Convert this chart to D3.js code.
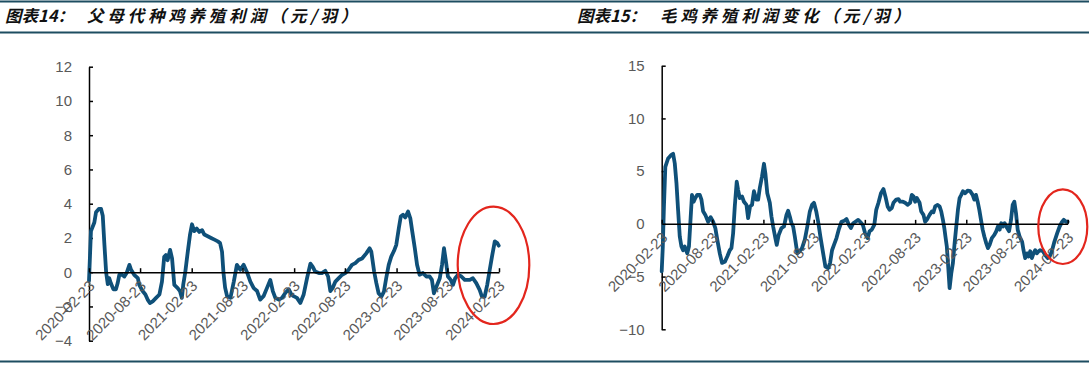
<!DOCTYPE html>
<html><head><meta charset="utf-8">
<script src="https://cdn.jsdelivr.net/npm/d3@7"></script>
<style>body{margin:0;background:#fff;overflow:hidden} svg{display:block}</style>
</head><body>
<svg id="c" width="1089" height="366"></svg>
<script>
// ---------- data ----------
const titleLeftPrefix = "图表14：";
const titleLeft = "父母代种鸡养殖利润（元/羽）";
const titleRightPrefix = "图表15：";
const titleRight = "毛鸡养殖利润变化（元/羽）";

const xTickLabels = ["2020-02-23","2020-08-23","2021-02-23","2021-08-23","2022-02-23","2022-08-23","2023-02-23","2023-08-23","2024-02-23"];
const leftYTicks = [-4,-2,0,2,4,6,8,10,12];
const rightYTicks = [-10,-5,0,5,10,15];

const parentDates = ["2020-02-23","2020-03-01","2020-03-13","2020-03-19","2020-03-29","2020-04-06","2020-04-12","2020-04-18","2020-04-24","2020-04-30","2020-05-05","2020-05-11","2020-05-20","2020-05-29","2020-06-04","2020-06-10","2020-06-20","2020-06-28","2020-07-06","2020-07-16","2020-07-22","2020-08-02","2020-08-15","2020-08-20","2020-09-01","2020-09-11","2020-09-19","2020-09-27","2020-10-07","2020-10-19","2020-10-31","2020-11-09","2020-11-17","2020-11-23","2020-11-29","2020-12-08","2020-12-15","2020-12-23","2021-01-04","2021-01-12","2021-01-19","2021-01-24","2021-01-31","2021-02-09","2021-02-17","2021-02-24","2021-03-04","2021-03-13","2021-03-22","2021-04-01","2021-04-09","2021-04-21","2021-05-03","2021-05-15","2021-05-27","2021-06-04","2021-06-11","2021-06-16","2021-06-22","2021-06-29","2021-07-11","2021-07-23","2021-08-03","2021-08-15","2021-08-27","2021-09-08","2021-09-20","2021-10-02","2021-10-14","2021-10-25","2021-11-06","2021-11-18","2021-11-30","2021-12-09","2021-12-18","2021-12-30","2022-01-11","2022-01-23","2022-02-04","2022-02-13","2022-02-21","2022-03-05","2022-03-17","2022-03-29","2022-04-10","2022-04-22","2022-04-30","2022-05-09","2022-05-22","2022-06-02","2022-06-14","2022-06-24","2022-07-02","2022-07-10","2022-07-20","2022-08-01","2022-08-13","2022-08-24","2022-09-05","2022-09-17","2022-09-29","2022-10-11","2022-10-23","2022-11-07","2022-11-19","2022-11-25","2022-12-05","2022-12-13","2022-12-21","2022-12-31","2023-01-09","2023-01-17","2023-01-26","2023-02-04","2023-02-14","2023-02-22","2023-03-03","2023-03-10","2023-03-18","2023-03-26","2023-04-05","2023-04-13","2023-04-20","2023-04-29","2023-05-07","2023-05-16","2023-05-28","2023-06-09","2023-06-21","2023-06-29","2023-07-06","2023-07-15","2023-07-27","2023-08-04","2023-08-11","2023-08-18","2023-08-25","2023-09-04","2023-09-12","2023-09-20","2023-09-30","2023-10-12","2023-10-24","2023-11-11","2023-11-22","2023-12-04","2023-12-16","2023-12-24","2024-01-03","2024-01-12","2024-01-21","2024-01-29","2024-02-08","2024-02-17","2024-02-22"];
const parentValues = [-0.5,2.4,2.9,3.5,3.7,3.7,3.3,1.6,0.0,-0.7,-0.35,-0.65,-1.0,-1.0,-0.65,-0.15,-0.15,-0.25,-0.05,0.43,0.14,-0.15,-0.35,-0.74,-1.1,-1.3,-1.6,-1.8,-1.7,-1.5,-1.3,-0.55,0.9,1.0,0.7,1.3,0.8,-0.74,-0.93,-1.1,-1.5,-0.7,0.0,1.2,2.2,2.8,2.4,2.55,2.35,2.45,2.2,2.1,2.0,1.9,1.8,1.7,1.2,0.0,-0.9,-1.4,-1.5,-0.55,0.43,0.14,0.43,0.0,-0.55,-0.93,-1.1,-1.6,-1.4,-0.93,-0.45,-1.1,-1.5,-1.6,-1.5,-1.2,-1.0,-1.3,-1.4,-1.5,-1.8,-1.3,-0.35,0.5,0.33,0.04,-0.05,-0.05,0.08,-0.25,-1.1,-0.93,-0.55,-0.35,-0.15,-0.05,0.14,0.43,0.53,0.72,0.8,1.1,1.4,1.2,0.04,-0.64,-1.23,-1.42,-1.13,-0.35,0.43,0.91,1.25,1.6,2.57,3.25,3.35,3.2,3.54,3.15,2.37,1.4,0.43,-0.15,-0.05,-0.25,-0.25,-0.45,-1.23,-0.84,-0.35,0.43,1.4,0.62,-0.25,-0.45,-0.74,-0.35,-0.15,-0.25,-0.45,-0.45,-0.35,-0.64,-1.03,-1.42,-1.42,-0.74,0.14,0.91,1.8,1.7,1.55];

const broilerDates = ["2020-02-23","2020-02-27","2020-03-02","2020-03-07","2020-03-17","2020-03-29","2020-04-04","2020-04-10","2020-04-16","2020-04-22","2020-04-28","2020-05-04","2020-05-10","2020-05-16","2020-05-25","2020-05-31","2020-06-05","2020-06-11","2020-06-17","2020-06-23","2020-06-30","2020-07-09","2020-07-15","2020-07-21","2020-07-29","2020-08-08","2020-08-17","2020-08-26","2020-09-03","2020-09-10","2020-09-19","2020-09-27","2020-10-07","2020-10-16","2020-10-25","2020-10-31","2020-11-06","2020-11-12","2020-11-19","2020-11-24","2020-11-30","2020-12-08","2020-12-15","2020-12-24","2020-12-30","2021-01-06","2021-01-13","2021-01-20","2021-01-28","2021-02-04","2021-02-10","2021-02-18","2021-02-25","2021-03-02","2021-03-09","2021-03-18","2021-03-24","2021-03-30","2021-04-07","2021-04-12","2021-04-19","2021-04-29","2021-05-08","2021-05-17","2021-05-23","2021-05-29","2021-06-04","2021-06-10","2021-06-16","2021-06-25","2021-07-04","2021-07-12","2021-07-22","2021-07-31","2021-08-09","2021-08-17","2021-08-24","2021-09-01","2021-09-08","2021-09-16","2021-09-26","2021-10-04","2021-10-14","2021-10-21","2021-10-28","2021-11-04","2021-11-13","2021-11-21","2021-12-01","2021-12-11","2021-12-19","2021-12-28","2022-01-04","2022-01-12","2022-01-20","2022-01-30","2022-02-06","2022-02-16","2022-02-24","2022-03-05","2022-03-12","2022-03-20","2022-03-29","2022-04-05","2022-04-13","2022-04-22","2022-05-01","2022-05-08","2022-05-16","2022-05-23","2022-05-31","2022-06-06","2022-06-16","2022-06-24","2022-06-30","2022-07-10","2022-07-18","2022-07-27","2022-08-05","2022-08-11","2022-08-17","2022-08-23","2022-08-29","2022-09-08","2022-09-14","2022-09-22","2022-09-28","2022-10-04","2022-10-14","2022-10-22","2022-10-28","2022-11-03","2022-11-12","2022-11-19","2022-11-25","2022-12-01","2022-12-06","2022-12-10","2022-12-15","2022-12-20","2022-12-25","2022-12-31","2023-01-06","2023-01-12","2023-01-18","2023-01-24","2023-01-30","2023-02-05","2023-02-11","2023-02-19","2023-02-28","2023-03-09","2023-03-18","2023-03-24","2023-03-30","2023-04-05","2023-04-11","2023-04-17","2023-04-23","2023-04-29","2023-05-06","2023-05-12","2023-05-18","2023-05-26","2023-06-04","2023-06-11","2023-06-17","2023-06-23","2023-06-29","2023-07-05","2023-07-11","2023-07-20","2023-07-27","2023-08-03","2023-08-09","2023-08-15","2023-08-21","2023-08-27","2023-09-03","2023-09-12","2023-09-17","2023-09-23","2023-09-30","2023-10-05","2023-10-11","2023-10-17","2023-10-23","2023-10-29","2023-11-04","2023-11-10","2023-11-16","2023-11-26","2023-12-04","2023-12-13","2023-12-20","2023-12-28","2024-01-06","2024-01-16","2024-01-25","2024-02-03","2024-02-09","2024-02-17","2024-02-23"];
const broilerValues = [-4.5,-2.15,1.6,5.4,6.2,6.55,6.65,5.75,3.9,1.3,-1.2,-2.15,-2.5,-2.15,-2.8,-2.15,0.06,2.75,2.1,2.45,2.75,2.75,2.3,1.2,0.85,0.2,0.63,0.2,-0.4,-1.5,-2.8,-3.7,-3.6,-3.1,-2.5,-2.3,-0.9,1.65,4.0,3.2,2.45,2.6,2.1,1.8,0.54,1.65,1.8,3.1,2.3,2.3,3.4,4.5,5.7,4.8,2.9,2.0,0.7,-0.25,-1.35,-2.0,-1.05,-0.4,-0.25,0.85,1.25,0.7,0.06,-0.25,-1.2,-2.8,-2.6,-2.3,-1.5,-0.25,1.17,1.8,2.0,1.2,0.2,-1.2,-2.8,-4.05,-4.2,-3.7,-2.5,-2.0,-1.35,-0.55,0.2,0.3,0.45,-0.1,-0.4,0.06,0.2,0.38,0.2,-0.1,-0.9,-1.35,-0.7,-0.55,-0.1,1.33,2.0,2.9,3.3,2.6,1.65,1.33,1.5,2.0,2.3,2.35,2.1,2.1,2.0,1.8,2.0,2.75,2.6,2.1,2.45,2.0,1.17,0.85,0.2,0.38,0.85,1.17,1.1,1.65,1.8,1.65,1.17,0.38,-0.4,-1.2,-2.15,-4.05,-6.1,-4.7,-3.7,-1.85,-0.25,1.33,2.45,2.75,3.1,2.9,3.15,3.1,2.75,2.3,2.75,2.1,1.33,0.38,-0.55,-1.2,-1.85,-2.3,-2.0,-1.35,-1.05,-0.7,-0.25,-0.55,0.06,-0.25,0.06,-0.4,-0.7,0.38,1.8,2.1,1.0,-0.55,-1.2,-1.7,-2.5,-3.25,-2.8,-3.1,-2.6,-3.25,-2.8,-2.5,-2.8,-2.6,-2.5,-2.6,-2.95,-3.25,-3.1,-2.6,-1.7,-0.9,-0.25,0.2,0.38,0.2,0.2];

// ---------- drawing ----------
const parse = d3.timeParse("%Y-%m-%d");
const svg = d3.select("#c");
const frameColor = "#1d4d61";
const lineColor = "#0f5079";
const labelColor = "#595959";
const font = "'Liberation Sans', Arial, sans-serif";

// frame lines
[1.5, 32.5, 361.5].forEach(y => {
  svg.append("line").attr("x1",0).attr("x2",1089).attr("y1",y).attr("y2",y)
    .attr("stroke",frameColor).attr("stroke-width",2);
});

function title(x0, x1, prefix, text) {
  const t = svg.append("text").attr("y",22)
    .attr("font-family","'Noto Sans CJK SC', sans-serif")
    .attr("font-weight","bold").attr("font-style","italic")
    .attr("font-size",16.5).attr("fill","#111");
  t.append("tspan").attr("x",x0).text(prefix);
  t.append("tspan").attr("x",x1).attr("letter-spacing",3.8).text(text);
}
title(5, 87, titleLeftPrefix, titleLeft);
title(577, 660, titleRightPrefix, titleRight);

function panel(cfg) {
  const x = d3.scaleTime()
    .domain([parse(xTickLabels[0]), parse(xTickLabels[xTickLabels.length-1])])
    .range([cfg.x0, cfg.x1]);
  const y = d3.scaleLinear().domain(cfg.yDomain).range([cfg.y1, cfg.y0]);
  const g = svg.append("g");

  // y axis
  const ya = g.append("g").attr("transform",`translate(${cfg.x0},0)`)
    .call(d3.axisLeft(y).tickValues(cfg.yTicks).tickSizeInner(-4).tickSizeOuter(0).tickPadding(17).tickFormat(d3.format("d")));
  ya.select(".domain").attr("stroke","#000").attr("stroke-width",1.5);
  ya.selectAll(".tick line").attr("stroke","#000").attr("stroke-width",1.5);
  ya.selectAll(".tick text").attr("fill",labelColor).attr("font-size",15).attr("font-family",font);

  // line
  const pts = cfg.dates.map((d,i)=>({d:parse(d), v:cfg.values[i]}));
  g.append("path").datum(pts)
    .attr("fill","none").attr("stroke",lineColor).attr("stroke-width",3.8)
    .attr("stroke-linejoin","round").attr("stroke-linecap","round")
    .attr("d", d3.line().x(p=>x(p.d)).y(p=>y(p.v)));

  // x axis at zero
  const y0 = y(0);
  const xa = g.append("g").attr("transform",`translate(0,${y0})`)
    .call(d3.axisBottom(x).tickValues(xTickLabels.map(parse)).tickSizeInner(-4).tickSizeOuter(0).tickFormat(""));
  xa.select(".domain").attr("stroke","#000").attr("stroke-width",1.5);
  xa.selectAll(".tick line").attr("stroke","#000").attr("stroke-width",1.5);

  // rotated x labels
  g.selectAll("text.xl").data(xTickLabels).enter().append("text")
    .attr("class","xl")
    .attr("transform", d=>`translate(${x(parse(d))+3},${y0+11}) rotate(-45)`)
    .attr("text-anchor","end").attr("dy","0.35em")
    .attr("font-family",font).attr("font-size",15).attr("fill",labelColor)
    .text(d=>d);

  // red highlight ellipse
  g.append("ellipse").attr("cx",cfg.ell[0]).attr("cy",cfg.ell[1])
    .attr("rx",cfg.ell[2]).attr("ry",cfg.ell[3])
    .attr("fill","none").attr("stroke","#e3261d").attr("stroke-width",2.2);
}

panel({x0:89, x1:499, y0:66.7, y1:340.7, yDomain:[-4,12], yTicks:leftYTicks,
       dates:parentDates, values:parentValues, ell:[493.5,265.3,35.8,58.7]});
panel({x0:661.7, x1:1067.7, y0:65.7, y1:329.3, yDomain:[-10,15], yTicks:rightYTicks,
       dates:broilerDates, values:broilerValues, ell:[1062.8,226.7,24.5,37.3]});
</script>
</body></html>
